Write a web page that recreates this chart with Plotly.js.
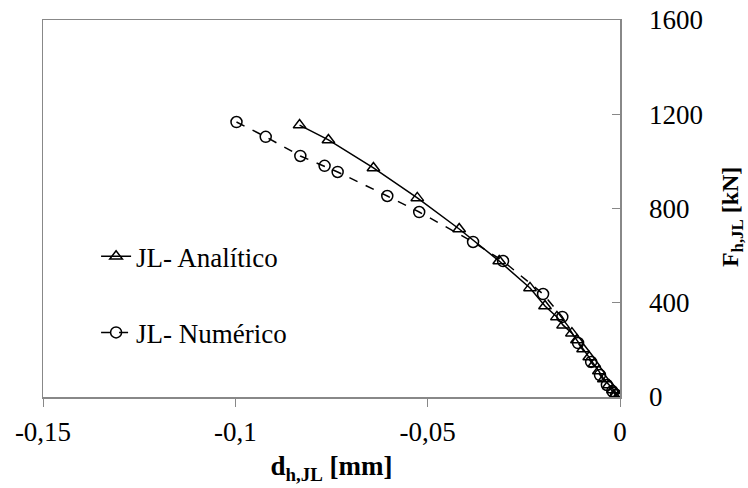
<!DOCTYPE html>
<html>
<head>
<meta charset="utf-8">
<script src="https://cdn.plot.ly/plotly-3.0.1.min.js"></script>
<style>html,body{margin:0;padding:0;background:#fff;}#chart{width:748px;height:488px;}</style>
</head>
<body>
<div id="chart"></div>
<script>
// Analytical series (JL- Analítico)
var anaX = [-0.0833, -0.0758, -0.0641, -0.0527, -0.0418, -0.0314, -0.0234, -0.0195, -0.0164, -0.0148, -0.0125, -0.0112, -0.0096, -0.0080, -0.0067, -0.0055, -0.0042, -0.0029, -0.0018, -0.0010, -0.0003, 0];
var anaY = [1154, 1091, 972, 845, 713, 577, 463, 386, 340, 305, 271, 242, 204, 170, 140, 110, 76, 51, 30, 13, 4, 0];
// Numerical series (JL- Numérico)
var numX = [-0.0997, -0.0921, -0.0831, -0.0768, -0.0734, -0.0605, -0.0522, -0.0382, -0.0304, -0.0200, -0.0150, -0.0109, -0.0075, -0.0052, -0.0034, -0.0020, -0.0010, 0];
var numY = [1167, 1104, 1023, 981, 955, 853, 785, 658, 577, 437, 340, 229, 149, 93, 51, 25, 8, 0];
// Tick labels
var xTickVals = [-0.15, -0.1, -0.05, 0];
var xTickText = ['-0,15', '-0,1', '-0,05', '0'];
var yTickVals = [0, 400, 800, 1200, 1600];
var yTickText = ['0', '400', '800', '1200', '1600'];
var seriesNames = ['JL- Analítico', 'JL- Numérico'];
var xTitle = '<b>d<sub>h,JL</sub> [mm]</b>';
var yTitle = '<b>F<sub>h,JL</sub> [kN]</b>';

var font = "'Liberation Serif', 'Times New Roman', serif";
var traces = [
  {x: anaX, y: anaY, type: 'scatter', mode: 'lines+markers', name: seriesNames[0], legendgroup: 'a',
   line: {color: '#000', width: 1.5},
   marker: {symbol: 'triangle-up-open', size: 11, color: '#000', line: {width: 1.5, color: '#000'}}},
  {x: numX, y: numY, type: 'scatter', mode: 'lines+markers', name: seriesNames[1], legendgroup: 'b',
   line: {color: '#000', width: 1.5, dash: 'dash'},
   marker: {symbol: 'circle-open', size: 11, color: '#000', line: {width: 1.5, color: '#000'}}}
];
var layout = {
  width: 748, height: 488,
  margin: {l: 43, r: 128, t: 20, b: 91},
  paper_bgcolor: '#fff', plot_bgcolor: '#fff',
  font: {family: font, size: 27, color: '#000'},
  showlegend: true,
  legend: {x: 0.092, y: 0.437, xanchor: 'left', yanchor: 'top', bgcolor: 'rgba(0,0,0,0)',
           font: {family: font, size: 27, color: '#000'}, itemwidth: 30, tracegroupgap: 38, traceorder: 'grouped'},
  xaxis: {range: [-0.15, 0], tickvals: xTickVals, ticktext: xTickText, ticks: 'outside', ticklen: 8,
          tickcolor: '#888', showline: true, linecolor: '#888', linewidth: 1.5, mirror: true,
          showgrid: false, zeroline: false, ticklabelstandoff: 2,
          tickfont: {family: font, size: 27, color: '#000'},
          title: {text: xTitle, font: {family: font, size: 27, color: '#000'}, standoff: 10}},
  yaxis: {range: [0, 1600], side: 'right', tickvals: yTickVals, ticktext: yTickText, ticks: 'inside', ticklen: 8,
          tickcolor: '#888', showline: true, linecolor: '#888', linewidth: 1.5, mirror: true,
          showgrid: false, zeroline: false, ticklabelstandoff: 22,
          tickfont: {family: font, size: 27, color: '#000'}},
  annotations: [
    {text: yTitle, xref: 'paper', yref: 'paper', x: 1.194, y: 0.477, xanchor: 'center', yanchor: 'middle',
     textangle: -90, showarrow: false, font: {family: font, size: 24, color: '#000'}}
  ]
};
Plotly.newPlot('chart', traces, layout, {displayModeBar: false, staticPlot: true});
</script>
</body>
</html>
